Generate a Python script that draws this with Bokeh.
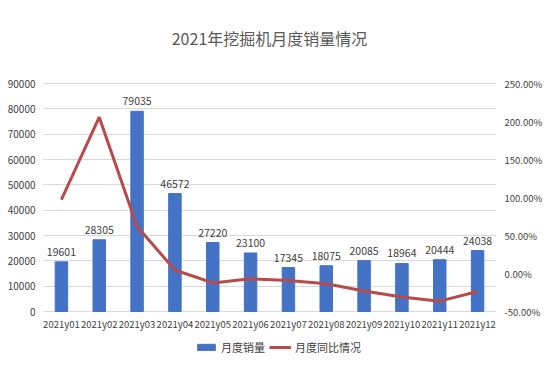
from bokeh.plotting import figure
from bokeh.models import (ColumnDataSource, FactorRange, Range1d, LinearAxis, Label,
                          NumeralTickFormatter, FixedTicker, Legend, LegendItem, LabelSet)
from bokeh.embed import file_html
from bokeh.resources import INLINE
from bokeh.core.properties import value

months = ["2021y01", "2021y02", "2021y03", "2021y04", "2021y05", "2021y06",
          "2021y07", "2021y08", "2021y09", "2021y10", "2021y11", "2021y12"]
sales = [19601, 28305, 79035, 46572, 27220, 23100, 17345, 18075, 20085, 18964, 20444, 24038]
yoy = [0.972, 2.056, 0.618, 0.046, -0.124, -0.069, -0.092, -0.136, -0.229, -0.308, -0.364, -0.236]
left_ticks = [0, 10000, 20000, 30000, 40000, 50000, 60000, 70000, 80000, 90000]
right_ticks = [-0.5, 0.0, 0.5, 1.0, 1.5, 2.0, 2.5]

FONT = "Noto Sans CJK SC"
TXT = "#404040"

# layout: plot area spans the whole canvas height; value 0 sits 55px above the bottom,
# top tick 83px below the top, 228px between them
H, TOP, BOT, SPAN = 366, 83, 55, 228
lmax, rmin, rmax = 90000, -0.5, 2.5
lpp = lmax / SPAN
rpp = (rmax - rmin) / SPAN

src = ColumnDataSource(dict(m=months, s=sales, y=yoy, lbl=[str(v) for v in sales]))

p = figure(frame_width=454, frame_height=H, x_range=FactorRange(*months),
           y_range=Range1d(-BOT * lpp, lmax + TOP * lpp),
           x_axis_location=None, output_backend="svg", toolbar_location=None,
           min_border_left=42, min_border_right=54, min_border_top=0, min_border_bottom=0)
p.extra_y_ranges = {"pct": Range1d(rmin - BOT * rpp, rmax + TOP * rpp)}
p.title = None
p.outline_line_color = None
p.xgrid.grid_line_color = None
p.ygrid.grid_line_color = "#d9d9d9"
p.ygrid.ticker = FixedTicker(ticks=left_ticks)

bars = p.vbar(x="m", top="s", width=0.33, source=src, color="#4472C4")
line = p.line(x="m", y="y", source=src, y_range_name="pct", line_color="#B84A4A", line_width=3)

labels = LabelSet(x="m", y="s", text="lbl", source=src, text_align="center", y_offset=6,
                  text_font=value(FONT), text_font_size="10.5px", text_color=TXT)
p.add_layout(labels)

xlabels = LabelSet(x="m", y=0, text="m", source=src, text_align="center",
                   text_baseline="middle", y_offset=-12,
                   text_font=value(FONT), text_font_size="9.5px", text_color=TXT)
p.add_layout(xlabels)

title = Label(x=6.0, y=(SPAN + TOP - 37) * lpp, text="2021年挖掘机月度销量情况",
              text_align="center", text_baseline="middle", text_font=FONT,
              text_font_size="16px", text_color="#595959")
p.add_layout(title)

ly = p.yaxis[0]
ly.ticker = FixedTicker(ticks=left_ticks)
ly.axis_line_color = None
ly.major_tick_line_color = None
ly.minor_tick_line_color = None
ly.major_tick_out = 0
ly.major_label_text_font = FONT
ly.major_label_text_font_size = "10px"
ly.major_label_text_color = TXT
ly.major_label_standoff = 7
ly.formatter = NumeralTickFormatter(format="0")

ry = LinearAxis(y_range_name="pct", ticker=FixedTicker(ticks=right_ticks),
                formatter=NumeralTickFormatter(format="0.00%"))
ry.axis_line_color = None
ry.major_tick_line_color = None
ry.minor_tick_line_color = None
ry.major_tick_out = 0
ry.major_label_text_font = FONT
ry.major_label_text_font_size = "9.5px"
ry.major_label_text_color = TXT
ry.major_label_standoff = 8
p.add_layout(ry, "right")

legend = Legend(items=[LegendItem(label="月度销量", renderers=[bars]),
                       LegendItem(label="月度同比情况", renderers=[line])],
                orientation="horizontal", location=(153, 11),
                label_text_font=FONT, label_text_font_size="11px", label_text_color=TXT,
                border_line_color=None, background_fill_alpha=0,
                glyph_width=22, glyph_height=8, spacing=4, padding=0, margin=0,
                label_standoff=4, label_height=14)
p.add_layout(legend)

open("out.html", "w").write(file_html(p, INLINE))
